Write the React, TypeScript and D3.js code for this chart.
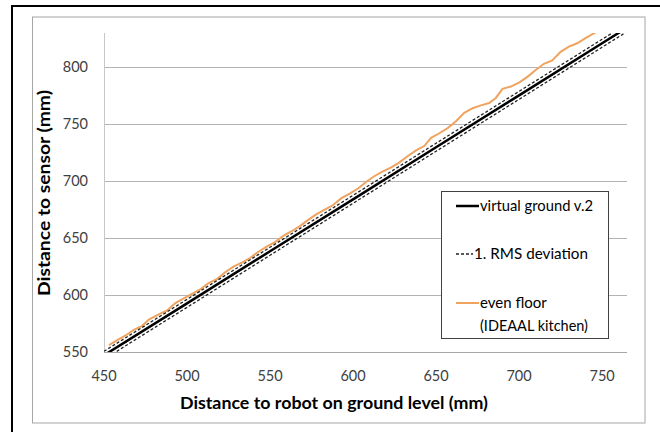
import * as d3 from "d3";

// x: distance to robot on ground level (mm)
const groundX = [450, 500, 550, 600, 650, 700, 750, 765];
// virtual ground v.2 (mm)
const virtualGround = [547.1, 592.7, 638.4, 684.0, 729.7, 775.3, 821.0, 834.7];
// +/- 1. RMS deviation
const rmsUpper = [550.6, 596.2, 641.9, 687.5, 733.2, 778.8, 824.5, 838.2];
const rmsLower = [543.6, 589.2, 634.9, 680.5, 726.2, 771.8, 817.5, 831.2];

// even floor (IDEAAL kitchen)
const floorX = [
  453, 458, 463, 468, 473, 477, 483, 488, 493, 498, 503, 508, 513, 518, 523,
  528, 533, 538, 543, 548, 553, 558, 563, 568, 573, 578, 583, 588, 593, 598,
  603, 608, 613, 618, 623, 628, 633, 638, 643, 647, 652, 657, 662, 667, 672,
  677, 682, 686, 690, 695, 700, 705, 710, 715, 720, 725, 730, 735, 740, 746,
];
const floorY = [
  556, 560.5, 564.5, 569.5, 573, 578.5, 583, 586.5, 593, 597, 601, 605, 610.5,
  614, 620, 625, 628.5, 632.5, 638, 642.5, 646.5, 652, 656, 660.5, 666, 671,
  675, 679, 685, 689, 693.5, 699.5, 704.5, 708.5, 712, 716.5, 722, 727, 731,
  738, 742, 746.5, 752.5, 760, 764, 766.5, 768.5, 773, 781, 783, 786.5, 791.5,
  797.5, 803, 806, 813.5, 818, 821, 825.5, 830.5,
];

const xTicks = [450, 500, 550, 600, 650, 700, 750];
const yTicks = [550, 600, 650, 700, 750, 800];

const font = "Lato, 'Open Sans', sans-serif";

export default function App() {
  const width = 660;
  const height = 432;
  const plot = { left: 104, right: 627, top: 33, bottom: 352 };

  const x = d3.scaleLinear().domain([450, 765]).range([plot.left, plot.right]);
  const y = d3.scaleLinear().domain([550, 830]).range([plot.bottom, plot.top]);

  const line = d3
    .line<[number, number]>()
    .x((d) => x(d[0]))
    .y((d) => y(d[1]));

  const zip = (xs: number[], ys: number[]) =>
    xs.map((v, i) => [v, ys[i]] as [number, number]);

  return (
    <svg
      width={width}
      height={height}
      style={{ position: "absolute", left: 0, top: 0, background: "#fff" }}
      fontFamily={font}
    >
      <defs>
        <clipPath id="plotClip">
          <rect
            x={plot.left}
            y={plot.top}
            width={plot.right - plot.left}
            height={plot.bottom - plot.top}
          />
        </clipPath>
      </defs>

      {/* outer frame */}
      <rect x={12} y={6} width={700} height={500} fill="#fff" stroke="#000" strokeWidth={2} />
      {/* chart area */}
      <rect x={32.5} y={17} width={612.5} height={406} fill="#fff" stroke="#a6a6a6" strokeWidth={1} />

      {/* gridlines */}
      {yTicks.map((t) => (
        <line
          key={t}
          x1={plot.left}
          x2={plot.right}
          y1={Math.round(y(t)) + 0.5}
          y2={Math.round(y(t)) + 0.5}
          stroke={t === 550 ? "#a6a6a6" : "#b3b3b3"}
          strokeWidth={1}
        />
      ))}
      <line
        x1={plot.left + 0.5}
        x2={plot.left + 0.5}
        y1={plot.top}
        y2={plot.bottom}
        stroke="#c8c8c8"
      />

      {/* y tick labels */}
      {yTicks.map((t) => (
        <text
          key={t}
          x={88}
          y={y(t)}
          dy="0.36em"
          textAnchor="end"
          fontSize={14.5}
          fill="#404040"
        >
          {t}
        </text>
      ))}
      {/* x tick labels */}
      {xTicks.map((t) => (
        <text
          key={t}
          x={x(t)}
          y={380.5}
          textAnchor="middle"
          fontSize={14.5}
          fill="#404040"
        >
          {t}
        </text>
      ))}

      {/* axis titles */}
      <text
        x={334}
        y={409}
        textAnchor="middle"
        fontSize={17.5}
        fontWeight="bold"
        fill="#000"
        textLength={308}
        lengthAdjust="spacingAndGlyphs"
      >
        Distance to robot on ground level (mm)
      </text>
      <text
        transform="translate(50,193) rotate(-90)"
        textAnchor="middle"
        fontSize={17.5}
        fontWeight="bold"
        fill="#000"
        textLength={206}
        lengthAdjust="spacingAndGlyphs"
      >
        Distance to sensor (mm)
      </text>

      {/* series */}
      <g clipPath="url(#plotClip)">
        <path
          d={line(zip(floorX, floorY)) ?? ""}
          fill="none"
          stroke="#f0a35e"
          strokeWidth={2}
        />
        <path
          d={line(zip(groundX, rmsUpper)) ?? ""}
          fill="none"
          stroke="#222"
          strokeWidth={1.3}
          strokeDasharray="3,2"
        />
        <path
          d={line(zip(groundX, rmsLower)) ?? ""}
          fill="none"
          stroke="#222"
          strokeWidth={1.3}
          strokeDasharray="3,2"
        />
        <path
          d={line(zip(groundX, virtualGround)) ?? ""}
          fill="none"
          stroke="#000"
          strokeWidth={2.5}
        />
      </g>

      {/* legend */}
      <g fontSize={15} fill="#000">
        <rect x={441.5} y={191.5} width={167} height={147} fill="#fff" stroke="#404040" strokeWidth={1} />
        <line x1={456} x2={479} y1={206} y2={206} stroke="#000" strokeWidth={2.5} />
        <text x={480} y={211} textLength={113} lengthAdjust="spacingAndGlyphs">virtual ground v.2</text>
        <line x1={456} x2={473} y1={254} y2={254} stroke="#222" strokeWidth={1.3} strokeDasharray="3,2" />
        <text x={474} y={259} textLength={114} lengthAdjust="spacingAndGlyphs">1. RMS deviation</text>
        <line x1={456} x2={479} y1={303} y2={303} stroke="#f0a35e" strokeWidth={2} />
        <text x={480} y={308}>even floor</text>
        <text x={480} y={331} textLength={108} lengthAdjust="spacingAndGlyphs">(IDEAAL kitchen)</text>
      </g>
    </svg>
  );
}
